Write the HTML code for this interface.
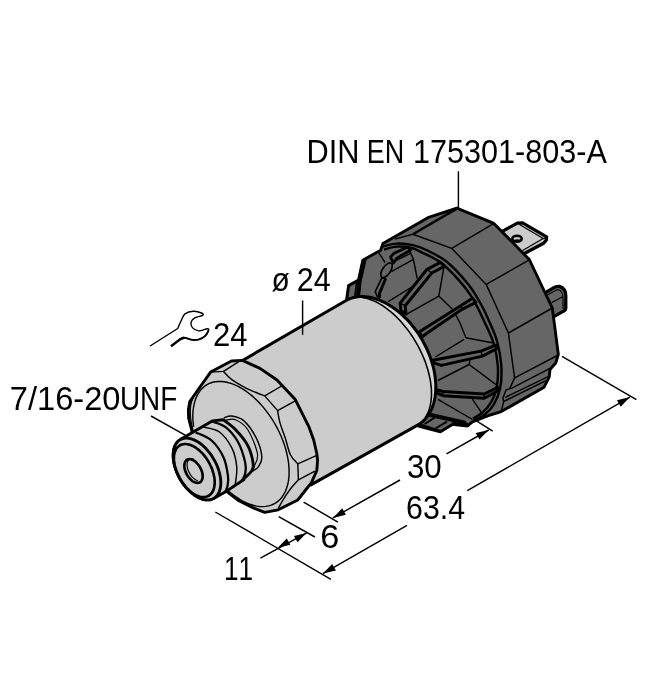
<!DOCTYPE html>
<html><head><meta charset="utf-8"><title>Pressure sensor dimension drawing</title>
<style>html,body{margin:0;padding:0;background:#fff}svg{display:block}text{font-family:"Liberation Sans",sans-serif;fill:#000;font-kerning:none;white-space:pre}svg{will-change:transform}</style>
</head><body>
<svg width="653" height="700" viewBox="0 0 653 700" stroke-linejoin="round" stroke-linecap="butt">
<rect width="653" height="700" fill="#fff"/>
<path d="M500.0,232.6L517.3,223.2L522.6,222.8L546.6,236.9L546.4,240.0L543.6,243.2L522.0,254.8L510.0,250.0Z" fill="#cccccc" stroke="#000" stroke-width="3.24" />
<path d="M519.5,224.6L543.2,238.6L522.6,250.4" fill="none" stroke="#000" stroke-width="1.20" />
<path d="M543.2,238.6L546.5,238.2" fill="none" stroke="#000" stroke-width="1.20"/>
<ellipse cx="517" cy="238.7" rx="4.7" ry="3" fill="#cccccc" stroke="#000" stroke-width="2.6"/>
<path d="M513,240.2 Q517,238.4 521,239.8 L520.5,241.5 L514,241.8Z" fill="#000"/>
<path d="M545,293 L553.9,287.6 Q557,286.2 559.6,286.4 Q565.6,288.5 565.8,295.5 L565.8,308 Q565.8,310.2 563.6,311.2 L552,317.6 Z" fill="#666666" stroke="#000" stroke-width="3.24" />
<path d="M547.9,294.8 L556.4,289.9 Q559,289.3 560.6,290.9 Q562.7,293 562.8,296.6 L563.1,309" fill="none" stroke="#000" stroke-width="1.20" />
<path d="M551.6,302.6L562.7,296.7" fill="none" stroke="#000" stroke-width="1.20"/>
<path d="M346.6,300.0L348.6,285.6L357.2,280.8L362.0,282.0L358.0,300.0Z" fill="#666666" stroke="#000" stroke-width="3.00" />
<path d="M356.6,282.0L354.8,297.0" fill="none" stroke="#000" stroke-width="1.68"/>
<path d="M456.8,208.2L493.9,223.4L529.3,259.5L552.3,308.0L558.3,354.3L555.9,362.7L550.0,369.5L549.2,377.1L544.1,387.2L501.2,411.6L487.6,415.9L472.4,421.8L467.4,426.0L452.2,424.3L440.4,431.9L418.5,426.0L390.0,380.0L357.5,298.0L358.4,280.5L362.8,260.2L380.6,250.2L382.9,243.6L427.9,217.7Z" fill="#666666" stroke="#000" stroke-width="2.88" />
<path d="M362.4,259.8 L366.2,259.4 L361,282 L359.6,296 L356.8,296.5 L358.2,280.5 Z" fill="#000" stroke="#000" stroke-width="1"/>
<path d="M394.7,239.1L412.9,234.3" fill="none" stroke="#000" stroke-width="1.44" />
<path d="M412.9,234.3L456.8,208.6" fill="none" stroke="#000" stroke-width="2.40" />
<path d="M412.9,234.3L451.8,248.4L486.2,284.4L508.4,333.0L514.6,377.9L509.6,388.9" fill="none" stroke="#000" stroke-width="1.44" />
<path d="M451.8,248.4L493.9,223.4" fill="none" stroke="#000" stroke-width="1.44"/>
<path d="M486.2,284.4L529.3,259.8" fill="none" stroke="#000" stroke-width="1.44"/>
<path d="M508.4,333.0L552.3,308.0" fill="none" stroke="#000" stroke-width="1.44"/>
<path d="M514.6,377.9L558.3,355.0" fill="none" stroke="#000" stroke-width="1.44"/>
<path d="M509.6,388.9L506.2,389.7L502.9,398.1L503.7,401.5L501.2,411.6" fill="none" stroke="#000" stroke-width="1.44" />
<path d="M510.4,388.9L549.5,368.6" fill="none" stroke="#000" stroke-width="1.44"/>
<path d="M505.4,397.3L549.2,376.2" fill="none" stroke="#000" stroke-width="1.44"/>
<path d="M503.7,401.5L546.5,380.4" fill="none" stroke="#000" stroke-width="1.44"/>
<path d="M382.6,246.4C385.0,245.9 391.8,243.8 396.8,243.6C401.9,243.4 408.0,244.1 412.9,245.2C417.8,246.3 420.8,247.2 426.4,250.0C432.0,252.8 439.8,256.1 446.8,261.8C453.8,267.5 462.7,277.5 468.2,284.3C473.7,291.1 476.6,296.6 480.0,302.5C483.4,308.4 485.8,313.6 488.6,320.0C491.4,326.4 494.9,333.4 497.0,341.0C499.1,348.6 500.8,357.5 501.3,365.3C501.8,373.1 501.4,381.5 500.2,388.0C498.9,394.5 496.3,400.1 493.8,404.5C491.3,408.9 488.5,411.4 485.2,414.1C481.9,416.8 475.9,419.4 474.0,420.5" fill="none" stroke="#000" stroke-width="2.40" />
<path d="M384.0,249.5C386.2,249.0 392.4,246.8 397.0,246.6C401.6,246.3 407.7,247.2 411.5,248.0C415.3,248.8 415.2,249.2 420.0,251.6C424.8,254.0 433.8,257.4 440.4,262.3C447.0,267.2 454.3,275.1 459.7,281.1C465.1,287.1 468.4,291.4 472.5,298.2C476.6,305.0 481.0,314.5 484.5,322.0C488.0,329.5 491.3,335.7 493.5,343.0C495.7,350.3 497.3,358.5 497.8,366.0C498.3,373.5 497.7,381.9 496.6,388.0C495.5,394.1 493.4,398.3 491.0,402.4C488.6,406.5 485.5,409.8 482.5,412.5C479.5,415.2 474.6,417.5 473.0,418.5" fill="none" stroke="#000" stroke-width="2.40" />
<path d="M378.6,252.3L385.0,262.5" fill="none" stroke="#000" stroke-width="1.44" />
<path d="M409.1,249.6L413.4,259.3L391.4,271.6" fill="none" stroke="#000" stroke-width="1.44" />
<path d="M395.2,260.9L410.7,253.4" fill="none" stroke="#000" stroke-width="1.44"/>
<path d="M413.4,259.3L417.2,278.6" fill="none" stroke="#000" stroke-width="1.44"/>
<path d="M388.2,301.6L415.0,285.0" fill="none" stroke="#000" stroke-width="1.44"/>
<path d="M444.1,266.1L438.8,296.1L406.8,314.1" fill="none" stroke="#000" stroke-width="1.44" />
<path d="M438.8,296.1L452.2,309.0" fill="none" stroke="#000" stroke-width="1.44" />
<path d="M452.2,309.0C453.3,311.0 456.7,316.2 459.0,321.0C461.3,325.8 464.7,334.9 465.8,337.7" fill="none" stroke="#000" stroke-width="1.44" />
<path d="M465.8,337.7L492.0,342.8" fill="none" stroke="#000" stroke-width="1.44"/>
<path d="M435.4,357.0L464.0,339.3" fill="none" stroke="#000" stroke-width="1.44" />
<path d="M437.9,380.5L469.1,364.5L469.9,360.3" fill="none" stroke="#000" stroke-width="1.44" />
<path d="M469.1,364.5L496.0,384.7" fill="none" stroke="#000" stroke-width="1.44"/>
<path d="M438.0,399.3L472.5,419.5" fill="none" stroke="#000" stroke-width="1.44"/>
<path d="M472.4,399.1L482.5,414.2" fill="none" stroke="#000" stroke-width="1.44"/>
<path d="M375.2,291.6L381.8,277.8L385.6,278.6L379.4,293.6L379.6,297.8L377.4,296.6Z" fill="#666666" stroke="#000" stroke-width="1.56" />
<path d="M385.6,278.6L379.4,293.6L379.6,297.8" fill="none" stroke="#000" stroke-width="2.88" />
<ellipse cx="386.5" cy="270.2" rx="8.5" ry="4" fill="#666666" stroke="#000" stroke-width="1.7" transform="rotate(-56 386.5 270.2)"/>
<path d="M390.5,257.2L393.6,253.6L407.6,246.9L410.4,250.2L396.9,258.1L393.4,263.0Z" fill="#666666" stroke="#000" stroke-width="2.76" />
<path d="M400.1,303.2L427.0,269.3L440.4,262.3L444.7,266.1L431.8,273.0L405.2,305.7L406.0,314.1L401.0,310.8Z" fill="#666666" stroke="#000" stroke-width="3.00" />
<path d="M400.1,303.2L405.2,305.7" fill="none" stroke="#000" stroke-width="1.44"/>
<path d="M427.0,269.3L431.8,273.0" fill="none" stroke="#000" stroke-width="1.44"/>
<path d="M419.5,331.8L460.7,305.7L472.5,298.2L475.9,302.3L462.4,309.1L425.4,334.3L422.0,337.0Z" fill="#666666" stroke="#000" stroke-width="3.00" />
<path d="M460.7,305.7L462.4,309.1" fill="none" stroke="#000" stroke-width="1.44"/>
<path d="M432.9,360.3L480.9,351.1L496.0,345.2L496.9,348.5L482.5,356.1L441.3,365.4L433.7,362.9Z" fill="#666666" stroke="#000" stroke-width="3.00" />
<path d="M480.9,351.1L482.5,356.1" fill="none" stroke="#000" stroke-width="1.44"/>
<path d="M436.2,389.8L443.0,391.5L484.2,394.0L497.7,387.3L498.5,390.6L484.2,398.2L443.0,395.7L437.1,393.2Z" fill="#666666" stroke="#000" stroke-width="3.00" />
<path d="M443.0,391.5L443.0,395.7" fill="none" stroke="#000" stroke-width="1.44"/>
<path d="M484.2,394.0L484.2,398.2" fill="none" stroke="#000" stroke-width="1.44"/>
<path d="M419.5,424.5L428.0,415.2L454.0,420.9L468.3,424.3L468.3,425.6L454.0,422.6L452.3,424.5L440.5,431.3Z" fill="#666666" stroke="#000" stroke-width="2.64" />
<path d="M424.6,424.0L434.6,417.6" fill="none" stroke="#000" stroke-width="1.92"/>
<path d="M435.0,428.8L447.0,421.6" fill="none" stroke="#000" stroke-width="1.92"/>
<path d="M429.0,413.4L466.0,421.8" fill="none" stroke="#000" stroke-width="1.80"/>
<path d="M417.6,425.1L419.7,423.9L421.6,422.4L423.5,420.8L425.2,419.0L426.9,417.1L428.4,415.0L429.7,412.8L431.0,410.4L432.1,407.9L433.0,405.3L433.9,402.6L434.5,399.7L435.1,396.8L435.5,393.8L435.7,390.6L435.8,387.5L435.8,384.2L435.5,380.9L435.2,377.5L434.7,374.1L434.1,370.7L433.3,367.2L432.3,363.7L431.3,360.3L430.1,356.8L428.7,353.3L427.3,349.9L425.7,346.5L424.0,343.2L422.2,339.9L420.2,336.7L418.2,333.5L416.0,330.4L413.8,327.5L411.5,324.6L409.1,321.8L406.6,319.1L404.0,316.6L401.4,314.1L398.8,311.9L396.0,309.7L393.3,307.7L390.5,305.9L387.7,304.2L384.9,302.6L382.0,301.3L379.2,300.0L376.4,299.0L373.6,298.2L370.8,297.5L368.0,297.0L365.3,296.7L362.6,296.5L360.0,296.6L357.4,296.8L354.9,297.2L352.5,297.8L350.1,298.6L347.9,299.5L345.7,300.7L242.5,360.5L310.0,485.4Z" fill="#d6d6d6" stroke="none" stroke-width="0.00" />
<path d="M417.6,424.5L419.3,423.4L421.0,422.2L422.5,420.7L424.0,419.1L425.3,417.3L426.5,415.4L427.6,413.4L428.5,411.2L429.4,408.8L430.0,406.4L430.6,403.8L431.0,401.1L431.3,398.3L431.5,395.4L431.5,392.4L431.4,389.3L431.1,386.2L430.7,383.0L430.2,379.7L429.5,376.4L428.7,373.0L427.8,369.6L426.7,366.2L425.6,362.8L424.3,359.4L422.9,356.0L421.3,352.6L419.7,349.2L418.0,345.9L416.1,342.6L414.2,339.4L412.2,336.2L410.1,333.1L407.9,330.1L405.6,327.2L403.3,324.4L400.9,321.6L398.5,319.0L396.0,316.5L393.5,314.1L390.9,311.9L388.3,309.8L385.7,307.8L383.1,306.0L380.5,304.4L377.9,302.9L375.3,301.5L372.7,300.4L370.1,299.4L367.6,298.6L365.1,297.9L362.6,297.4L360.2,297.1L357.9,297.0L355.6,297.1L353.4,297.3L351.3,297.7L349.3,298.3L347.3,299.1L345.4,300.1L242.5,360.5L310.0,485.4Z" fill="#cccccc" stroke="none" stroke-width="0.00" />
<path d="M425.3,417.3L426.5,415.4L427.6,413.4L428.5,411.2L429.4,408.8L430.0,406.4L430.6,403.8L431.0,401.1L431.3,398.3L431.5,395.4L431.5,392.4L431.4,389.3L431.1,386.2L430.7,383.0L430.2,379.7L429.5,376.4L428.7,373.0L427.8,369.6L426.7,366.2L425.6,362.8L424.3,359.4L422.9,356.0L421.3,352.6L419.7,349.2L418.0,345.9L416.1,342.6L414.2,339.4L412.2,336.2L410.1,333.1L407.9,330.1L405.6,327.2L403.3,324.4L400.9,321.6L398.5,319.0L396.0,316.5L393.5,314.1L390.9,311.9L388.3,309.8L385.7,307.8L383.1,306.0L380.5,304.4L377.9,302.9L375.3,301.5L372.7,300.4L370.1,299.4L367.6,298.6L365.1,297.9L362.6,297.4L360.2,297.1L357.9,297.0L355.6,297.1" fill="none" stroke="#000" stroke-width="1.56" />
<path d="M310.0,485.4L417.6,425.1L419.7,423.9L421.6,422.4L423.5,420.8L425.2,419.0L426.9,417.1L428.4,415.0L429.7,412.8L431.0,410.4L432.1,407.9L433.0,405.3L433.9,402.6L434.5,399.7L435.1,396.8L435.5,393.8L435.7,390.6L435.8,387.5L435.8,384.2L435.5,380.9L435.2,377.5L434.7,374.1L434.1,370.7L433.3,367.2L432.3,363.7L431.3,360.3L430.1,356.8L428.7,353.3L427.3,349.9L425.7,346.5L424.0,343.2L422.2,339.9L420.2,336.7L418.2,333.5L416.0,330.4L413.8,327.5L411.5,324.6L409.1,321.8L406.6,319.1L404.0,316.6L401.4,314.1L398.8,311.9L396.0,309.7L393.3,307.7L390.5,305.9L387.7,304.2L384.9,302.6L382.0,301.3L379.2,300.0L376.4,299.0L373.6,298.2L370.8,297.5L368.0,297.0L365.3,296.7L362.6,296.5L360.0,296.6L357.4,296.8L354.9,297.2L352.5,297.8L350.1,298.6L347.9,299.5L345.7,300.7L242.5,360.5" fill="none" stroke="#000" stroke-width="3.00" />
<path d="M242.5,360.4L231.5,361.0L210.6,372.1L189.8,401.5L188.4,409.5L188.6,418.0L191.6,430.0L200.0,470.0L226.9,491.6L237.9,500.1L253.8,508.1L264.7,512.4L278.2,509.8L297.8,500.0L306.4,489.0L311.3,482.9L316.8,470.6L317.6,460.0L316.8,453.5L313.7,440.0L308.8,426.6L295.3,399.6L277.0,380.0L260.0,368.4Z" fill="#cccccc" stroke="#000" stroke-width="2.88" />
<path d="M226.5,489.2L229.8,492.1L233.1,494.8L236.5,497.2L239.8,499.4L243.2,501.3L246.6,503.0L250.0,504.3L253.3,505.3L256.5,506.1L259.7,506.5L262.7,506.6L265.7,506.4L268.5,505.9L271.2,505.1L273.8,504.0L276.2,502.6L278.4,500.9L280.4,499.0L282.3,496.7L283.9,494.2L285.3,491.5L286.5,488.5L287.5,485.3L288.3,481.9L288.8,478.3L289.1,474.5L289.1,470.6L288.9,466.6L288.5,462.4L287.8,458.2L286.9,453.8L285.8,449.5L284.5,445.1L282.9,440.7L281.1,436.3L279.2,432.0L277.0,427.7L274.7,423.5L272.2,419.4L269.5,415.4L266.7,411.6L263.8,407.9L260.8,404.4L257.6,401.1L254.4,398.0L251.2,395.1L247.8,392.5L244.5,390.1L241.1,388.0L237.7,386.2L234.3,384.7L231.0,383.4L227.7,382.5L224.5,381.8L221.4,381.5L218.3,381.5L215.4,381.8L212.6,382.3L209.9,383.2L207.4,384.4L205.1,385.9L202.9,387.7L200.9,389.7L199.2,392.1L197.6,394.6L196.2,397.5L195.1,400.5L194.2,403.8L193.5,407.3L193.0,410.9L192.8,414.7L192.9,418.7L193.1,422.7L193.6,426.9" fill="none" stroke="#000" stroke-width="1.44" />
<path d="M209.5,374.5C207.6,376.9 201.0,384.4 198.0,389.0C195.0,393.6 192.8,398.2 191.5,402.0C190.2,405.8 190.4,408.7 190.3,412.0C190.2,415.3 190.7,418.8 191.2,422.0C191.7,425.2 192.9,429.5 193.2,431.0" fill="none" stroke="#000" stroke-width="1.20" />
<path d="M210.6,372.1L223.5,371.4L238.8,361.6" fill="none" stroke="#000" stroke-width="1.44" />
<path d="M223.5,371.4C224.8,372.7 228.1,376.8 231.5,379.4C234.9,382.0 239.6,384.6 243.7,386.8C247.8,389.0 252.5,391.0 256.0,392.5C259.5,394.0 263.2,395.3 264.7,395.9" fill="none" stroke="#000" stroke-width="1.44" />
<path d="M264.7,395.9L282.5,385.5" fill="none" stroke="#000" stroke-width="1.44"/>
<path d="M264.7,395.9L277.6,410.6" fill="none" stroke="#000" stroke-width="1.44"/>
<path d="M277.6,410.6L295.3,400.8" fill="none" stroke="#000" stroke-width="1.44"/>
<path d="M277.6,410.6C278.0,412.7 278.7,418.2 280.0,422.9C281.3,427.6 283.8,433.5 285.5,438.8C287.2,444.1 288.3,450.5 290.4,454.7C292.4,458.9 296.6,462.4 297.8,463.9" fill="none" stroke="#000" stroke-width="1.44" />
<path d="M297.8,463.9L316.8,455.3" fill="none" stroke="#000" stroke-width="1.44"/>
<path d="M297.8,463.9L298.4,479.8" fill="none" stroke="#000" stroke-width="1.44"/>
<path d="M298.4,479.8L314.9,471.2" fill="none" stroke="#000" stroke-width="1.44"/>
<path d="M298.4,479.8C297.1,481.3 293.0,485.6 290.4,489.0C287.8,492.4 285.0,496.7 283.0,500.0C281.0,503.3 279.0,507.2 278.2,508.6" fill="none" stroke="#000" stroke-width="1.44" />
<path d="M223.8,417.9C225.1,417.6 228.4,415.5 231.8,416.0C235.2,416.5 239.9,417.2 244.0,420.9C248.1,424.6 253.3,432.2 256.3,438.1C259.3,444.0 261.4,451.8 261.8,456.5C262.2,461.2 260.2,463.9 258.7,466.3C257.2,468.8 253.6,470.4 252.6,471.2" fill="#cccccc" stroke="#000" stroke-width="1.44" />
<path d="M225.6,420.3C227.2,420.2 231.7,418.2 235.4,419.7C239.1,421.2 244.0,423.8 247.7,429.5C251.4,435.2 256.5,447.7 257.5,454.0C258.5,460.3 254.4,465.2 253.8,467.5" fill="none" stroke="#000" stroke-width="1.20" />
<path d="M180.3,439.6L179.1,440.4L178.1,441.3L177.1,442.3L176.3,443.4L175.5,444.7L174.8,446.1L174.3,447.6L173.8,449.2L173.5,450.9L173.3,452.7L173.2,454.6L173.2,456.5L173.3,458.5L173.6,460.6L173.9,462.7L174.4,464.8L175.0,466.9L175.7,469.1L176.5,471.3L177.4,473.4L178.4,475.5L179.4,477.6L180.6,479.7L181.9,481.7L183.2,483.6L184.6,485.5L186.0,487.3L187.5,489.0L189.1,490.6L190.6,492.1L192.3,493.4L193.9,494.7L195.5,495.8L197.2,496.9L198.9,497.7L200.5,498.5L202.2,499.1L203.8,499.5L205.3,499.8L206.9,499.9L208.4,499.9L209.8,499.8L211.2,499.5L212.4,499.0L213.7,498.4L226.9,490.9 L244,479.5L244.0,478.5C245.2,477.3 249.9,473.6 251.4,471.2C252.9,468.8 253.8,468.1 253.2,463.8C252.6,459.5 250.7,451.1 247.7,445.4C244.7,439.7 239.5,433.8 235.4,429.5C231.3,425.2 225.2,421.3 223.2,419.7L212.2,420.9Z" fill="#cccccc" stroke="#000" stroke-width="2.88" />
<path d="M212.2,421.5C214.4,422.4 221.3,423.7 225.6,427.1C229.9,430.5 234.6,435.9 237.9,441.8C241.2,447.7 244.0,457.3 245.2,462.6C246.4,467.9 245.8,470.5 245.2,473.6C244.6,476.7 242.2,479.8 241.6,481.0" fill="none" stroke="#000" stroke-width="2.28" />
<path d="M203.6,427.1C206.2,427.9 214.8,428.5 219.5,432.0C224.2,435.5 228.9,442.2 231.8,447.9C234.7,453.6 236.1,460.4 236.7,466.3C237.3,472.2 235.9,479.9 235.4,483.4C234.9,486.8 233.8,486.4 233.5,487.0" fill="none" stroke="#000" stroke-width="1.44" />
<path d="M195.6,432.4C198.3,433.8 206.9,436.3 211.6,440.5C216.3,444.7 220.9,451.6 223.6,457.5C226.3,463.4 227.3,471.2 228.0,476.0C228.7,480.8 227.9,483.5 227.5,486.0C227.1,488.5 225.8,490.3 225.5,491.2" fill="none" stroke="#000" stroke-width="2.28" />
<path d="M213.7,498.4L214.8,497.7L215.9,496.8L216.8,495.8L217.7,494.6L218.5,493.3L219.1,492.0L219.7,490.5L220.1,488.8L220.5,487.1L220.7,485.3L220.8,483.5L220.8,481.5L220.6,479.5L220.4,477.5L220.0,475.4L219.5,473.2L219.0,471.1L218.3,468.9L217.5,466.8L216.6,464.6L215.6,462.5L214.5,460.4L213.3,458.4L212.1,456.4L210.8,454.4L209.4,452.6L207.9,450.8L206.4,449.1L204.9,447.5L203.3,446.0L201.7,444.6L200.1,443.3L198.4,442.2L196.7,441.2L195.1,440.3L193.4,439.6L191.8,439.0L190.2,438.6L188.6,438.3L187.1,438.1L185.6,438.1L184.2,438.3L182.8,438.6L181.5,439.0L180.3,439.6L179.1,440.4L178.1,441.3L177.1,442.3L176.3,443.4L175.5,444.7L174.8,446.1L174.3,447.6L173.8,449.2L173.5,450.9L173.3,452.7L173.2,454.6L173.2,456.5L173.3,458.5L173.6,460.6L173.9,462.7L174.4,464.8L175.0,466.9L175.7,469.1L176.5,471.3L177.4,473.4L178.4,475.5L179.4,477.6L180.6,479.7L181.9,481.7L183.2,483.6L184.6,485.5L186.0,487.3L187.5,489.0L189.1,490.6L190.6,492.1L192.3,493.4L193.9,494.7L195.5,495.8L197.2,496.9L198.9,497.7L200.5,498.5L202.2,499.1L203.8,499.5L205.3,499.8L206.9,499.9L208.4,499.9L209.8,499.8L211.2,499.5L212.4,499.0L213.7,498.4Z" fill="#cccccc" stroke="#000" stroke-width="2.88" />
<path d="M208.6,495.8L209.6,495.1L210.5,494.4L211.3,493.5L212.1,492.5L212.7,491.4L213.3,490.2L213.8,488.9L214.1,487.6L214.4,486.1L214.6,484.6L214.7,483.0L214.7,481.3L214.6,479.6L214.4,477.8L214.0,476.0L213.6,474.2L213.1,472.3L212.5,470.5L211.9,468.6L211.1,466.8L210.2,465.0L209.3,463.2L208.3,461.4L207.3,459.7L206.1,458.0L204.9,456.4L203.7,454.9L202.4,453.4L201.1,452.1L199.7,450.8L198.3,449.6L196.9,448.5L195.5,447.5L194.1,446.7L192.7,445.9L191.2,445.3L189.8,444.8L188.5,444.4L187.1,444.2L185.8,444.0L184.5,444.0L183.3,444.2L182.1,444.4L181.0,444.8L180.0,445.3L179.0,446.0L178.1,446.7L177.2,447.6L176.5,448.6L175.8,449.7L175.3,450.9L174.8,452.2L174.4,453.6L174.1,455.0L174.0,456.6L173.9,458.2L173.9,459.8L174.0,461.5L174.2,463.3L174.5,465.1L174.9,466.9L175.4,468.8L176.0,470.6L176.7,472.5L177.5,474.3L178.3,476.1L179.2,477.9L180.2,479.7L181.3,481.4L182.4,483.1L183.6,484.7L184.9,486.2L186.2,487.7L187.5,489.0L188.8,490.3L190.2,491.5L191.6,492.6L193.1,493.6L194.5,494.4L195.9,495.2L197.3,495.8L198.7,496.3L200.1,496.7L201.5,497.0L202.8,497.1L204.0,497.1L205.3,496.9L206.4,496.7L207.6,496.3L208.6,495.8Z" fill="none" stroke="#000" stroke-width="2.64" />
<path d="M199.9,482.3L200.4,482.0L200.8,481.7L201.1,481.3L201.5,480.8L201.8,480.4L202.0,479.8L202.2,479.2L202.4,478.6L202.5,478.0L202.6,477.3L202.6,476.6L202.6,475.8L202.6,475.0L202.5,474.2L202.4,473.4L202.2,472.6L202.0,471.8L201.7,471.0L201.4,470.1L201.0,469.3L200.7,468.5L200.2,467.7L199.8,466.9L199.3,466.1L198.8,465.4L198.3,464.7L197.7,464.0L197.1,463.3L196.5,462.7L195.9,462.1L195.3,461.6L194.7,461.1L194.1,460.7L193.4,460.3L192.8,460.0L192.1,459.7L191.5,459.5L190.9,459.3L190.3,459.2L189.7,459.1L189.1,459.1L188.6,459.2L188.0,459.3L187.5,459.5L187.1,459.7L186.6,460.0L186.2,460.3L185.9,460.7L185.5,461.2L185.2,461.6L185.0,462.2L184.8,462.8L184.6,463.4L184.5,464.0L184.4,464.7L184.4,465.4L184.4,466.2L184.4,467.0L184.5,467.8L184.6,468.6L184.8,469.4L185.0,470.2L185.3,471.0L185.6,471.9L186.0,472.7L186.3,473.5L186.8,474.3L187.2,475.1L187.7,475.9L188.2,476.6L188.7,477.3L189.3,478.0L189.9,478.7L190.5,479.3L191.1,479.9L191.7,480.4L192.3,480.9L192.9,481.3L193.6,481.7L194.2,482.0L194.9,482.3L195.5,482.5L196.1,482.7L196.7,482.8L197.3,482.9L197.9,482.9L198.4,482.8L199.0,482.7L199.5,482.5L199.9,482.3Z" fill="#cccccc" stroke="#000" stroke-width="2.64" />
<path d="M193.5,458.8L192.7,458.7L191.8,458.6L191.1,458.7L190.3,458.9L189.6,459.2L189.0,459.6L188.5,460.1L188.1,460.8L187.7,461.5L187.4,462.3L187.2,463.2L187.1,464.2L187.1,465.3L187.2,466.3L187.4,467.5L187.6,468.6L188.0,469.8L188.4,471.0L189.0,472.1L189.6,473.2L190.2,474.3L190.9,475.4L191.7,476.4L192.5,477.3L193.4,478.1L194.3,478.8L195.2,479.4L196.1,480.0L197.0,480.4L197.8,480.7" fill="none" stroke="#000" stroke-width="1.20" />
<path d="M458.4,171.2L458.4,208.5" fill="none" stroke="#000" stroke-width="1.44"/>
<path d="M302.6,300.5L302.6,334.8" fill="none" stroke="#000" stroke-width="1.44"/>
<path d="M151.0,416.0L186.0,435.6" fill="none" stroke="#000" stroke-width="1.44"/>
<path d="M562.0,356.3L636.4,399.7" fill="none" stroke="#000" stroke-width="1.44"/>
<path d="M476.5,420.8L492.7,431.2" fill="none" stroke="#000" stroke-width="1.44"/>
<path d="M303.6,502.1L337.9,522.1" fill="none" stroke="#000" stroke-width="1.44"/>
<path d="M215.3,512.0L330.9,579.3" fill="none" stroke="#000" stroke-width="1.44"/>
<path d="M278.7,516.6L314.9,537.0" fill="none" stroke="#000" stroke-width="1.44"/>
<path d="M630.0,397.1L467.3,490.6" fill="none" stroke="#000" stroke-width="1.44"/>
<path d="M407.0,525.3L322.9,573.6" fill="none" stroke="#000" stroke-width="1.44"/>
<path d="M630.0,397.1L620.7,406.7L617.0,400.2Z" fill="#000" stroke="none"/>
<path d="M322.9,573.6L332.2,564.0L335.9,570.5Z" fill="#000" stroke="none"/>
<path d="M488.7,430.0L446.5,453.8" fill="none" stroke="#000" stroke-width="1.44"/>
<path d="M400.0,480.0L332.9,517.9" fill="none" stroke="#000" stroke-width="1.44"/>
<path d="M488.7,430.0L479.4,439.6L475.7,433.1Z" fill="#000" stroke="none"/>
<path d="M332.9,517.9L342.2,508.3L345.9,514.8Z" fill="#000" stroke="none"/>
<path d="M306.6,532.9L260.4,558.2" fill="none" stroke="#000" stroke-width="1.44"/>
<path d="M306.6,532.9L297.5,542.2L294.0,535.9Z" fill="#000" stroke="none"/>
<path d="M277.7,547.8L286.8,538.5L290.3,544.8Z" fill="#000" stroke="none"/>
<text y="163.2" font-size="32.8"><tspan x="306.6" textLength="52.94" lengthAdjust="spacingAndGlyphs">DIN</tspan> <tspan x="366.85" textLength="37.47" lengthAdjust="spacingAndGlyphs">EN</tspan> <tspan x="412.95" textLength="193.86" lengthAdjust="spacingAndGlyphs">175301-803-A</tspan></text>
<text y="410.0" font-size="32.8"><tspan x="9.85" textLength="110.67" lengthAdjust="spacingAndGlyphs">7/16-20</tspan><tspan x="119.95" textLength="57.32" lengthAdjust="spacingAndGlyphs">UNF</tspan></text>
<text y="290.7" font-size="32.8"><tspan x="271.55" textLength="18.32" lengthAdjust="spacingAndGlyphs">ø</tspan> <tspan x="296.8" textLength="33.89" lengthAdjust="spacingAndGlyphs">24</tspan></text>
<text y="345.9" font-size="32.8"><tspan x="212.9" textLength="34.54" lengthAdjust="spacingAndGlyphs">24</tspan></text>
<text y="478.0" font-size="32.8"><tspan x="406.95" textLength="34.77" lengthAdjust="spacingAndGlyphs">30</tspan></text>
<text y="518.7" font-size="32.8"><tspan x="406.1" textLength="59.0" lengthAdjust="spacingAndGlyphs">63.4</tspan></text>
<text y="548.2" font-size="32.8"><tspan x="320.35" textLength="19.05" lengthAdjust="spacingAndGlyphs">6</tspan></text>
<text y="579.5" font-size="32.8"><tspan x="223.9" textLength="29.08" lengthAdjust="spacingAndGlyphs">11</tspan></text>
<path d="M150.1,346L177.7,328.5L177.7,328.5C178.3,327.1 180.2,322.6 181.4,320.2C182.6,317.8 183.0,315.3 185.0,313.8C187.0,312.3 190.5,311.3 193.3,311.2C196.1,311.1 200.0,312.3 201.6,313.0C203.2,313.7 203.8,314.6 202.7,315.4C201.6,316.2 197.0,316.6 195.1,317.7C193.2,318.8 191.5,320.5 191.1,322.1C190.7,323.8 191.1,326.1 192.4,327.6C193.7,329.1 196.4,330.7 198.8,330.9C201.2,331.1 205.5,328.9 207.1,328.8C208.7,328.7 208.9,329.1 208.6,330.3C208.3,331.5 206.9,334.3 205.3,335.8C203.7,337.3 201.1,338.9 198.8,339.5C196.5,340.1 193.9,340.0 191.5,339.7C189.1,339.4 186.1,337.7 184.1,337.7C182.1,337.7 180.3,339.2 179.5,339.5" fill="none" stroke="#000" stroke-width="1.44" stroke-linejoin="round"/>
<path d="M208.6,330.3C208.1,331.2 206.9,334.3 205.3,335.8C203.7,337.3 201.1,338.9 198.8,339.5C196.5,340.1 193.9,340.0 191.5,339.7C189.1,339.4 186.1,337.7 184.1,337.7C182.1,337.7 180.3,339.2 179.5,339.5" fill="none" stroke="#000" stroke-width="1.80" />
<path d="M171,346.2L179.5,339.7L184.1,337.7" fill="none" stroke="#000" stroke-width="2.40" />
</svg>
</body></html>
